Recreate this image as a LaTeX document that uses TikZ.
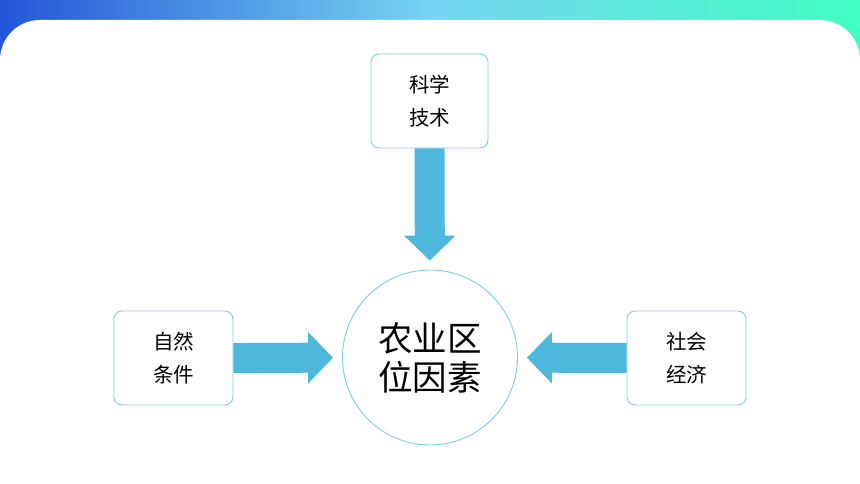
\documentclass[tikz,border=0pt]{standalone}
\usepackage{fontspec}
\newfontfamily\cjk{Noto Sans CJK SC}
\usetikzlibrary{arrows.meta,calc}
\definecolor{gA}{HTML}{2356D8}
\definecolor{gB}{HTML}{76D4F2}
\definecolor{gC}{HTML}{40FFC2}
\definecolor{arrowblue}{HTML}{4DB8DC}
\definecolor{edgeblue}{HTML}{7FCCE8}
\tikzset{
  factorbox/.style={draw=edgeblue, line width=0.9pt, rounded corners=8pt, fill=white,
    minimum width=117pt, minimum height=94pt, inner sep=0pt, align=center,
    font=\cjk\fontsize{20.5pt}{33pt}\selectfont},
  hubcircle/.style={draw=edgeblue, line width=0.9pt, circle, fill=white,
    minimum size=175pt, inner sep=0pt, align=center,
    font=\cjk\fontsize{34.5pt}{39pt}\selectfont},
  bigarrow/.style={draw=arrowblue, line width=30pt,
    -{Triangle[width=50pt,length=25pt]}, shorten >=9pt}
}
\begin{document}
\begin{tikzpicture}[x=1pt,y=-1pt]
\useasboundingbox (0,0) rectangle (860,484);
% top gradient band
\shade[left color=gA, right color=gB] (0,0) rectangle (430.5,70);
\shade[left color=gB, right color=gC] (430,0) rectangle (860,70);
% white panel
\fill[white, rounded corners=40pt] (0,20) rectangle (860,560);
% nodes
\node[hubcircle] (hub) at (430,357.5) {农业区\\位因素};
\node[factorbox] (tech) at (429.5,101) {科学\\技术};
\node[factorbox, minimum width=119pt] (nature) at (173.5,358) {自然\\条件};
\node[factorbox, minimum width=119pt] (social) at (686.5,358) {社会\\经济};
% arrows
\draw[bigarrow] (tech) -- (hub);
\draw[bigarrow] (nature) -- (hub);
\draw[bigarrow] (social) -- (hub);
\end{tikzpicture}
\end{document}
